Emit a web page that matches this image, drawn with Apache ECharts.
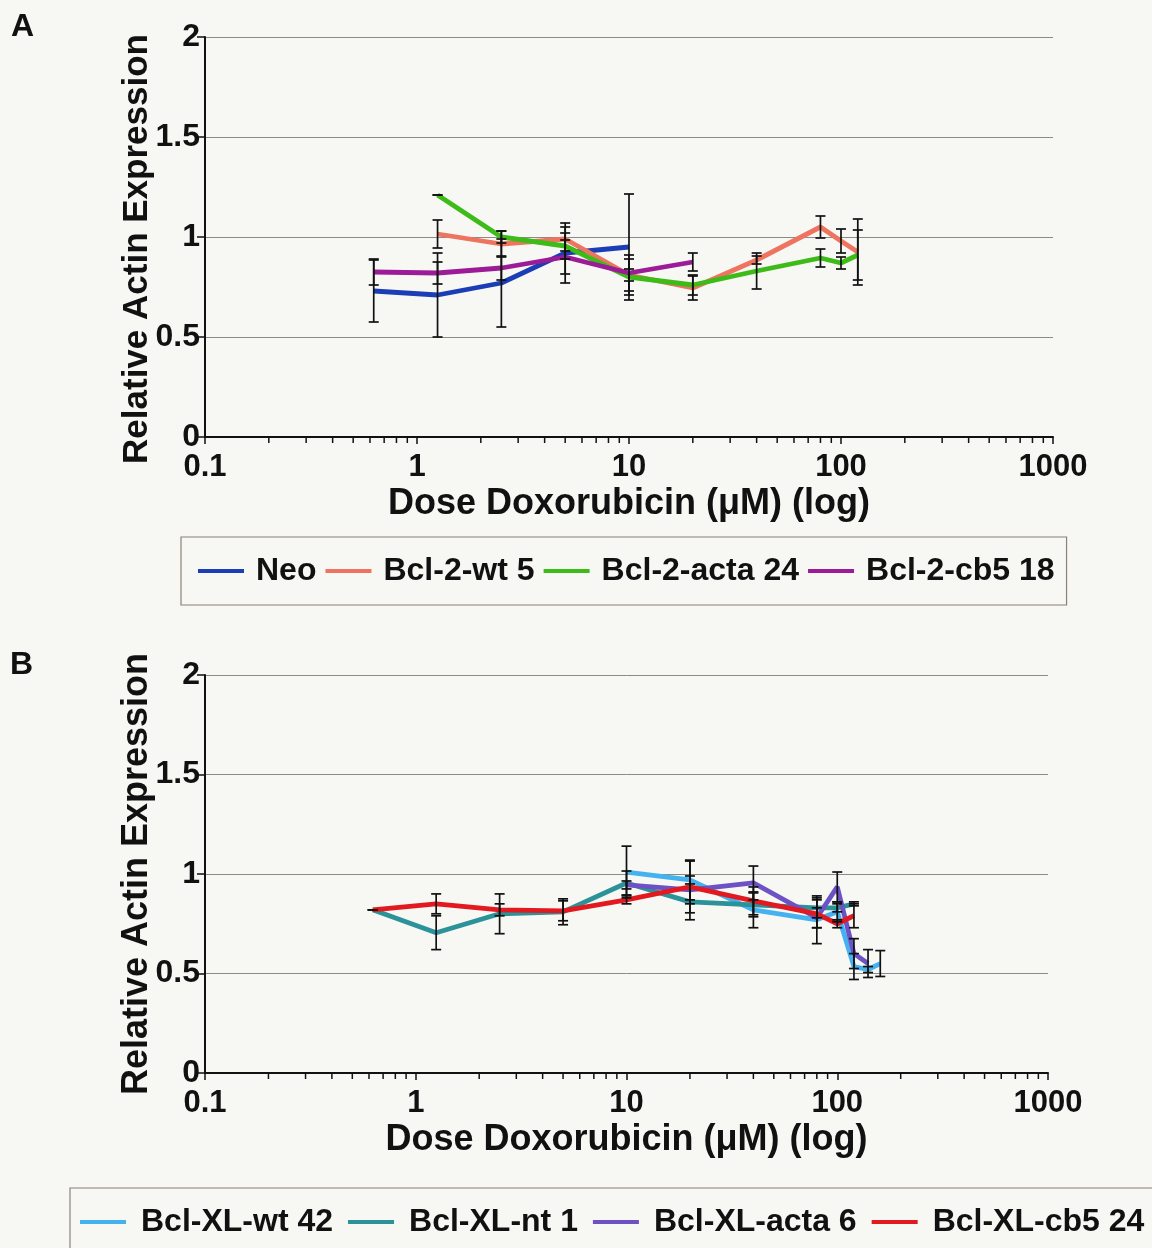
<!DOCTYPE html>
<html>
<head>
<meta charset="utf-8">
<script src="https://cdn.jsdelivr.net/npm/echarts@6/dist/echarts.min.js"></script>
<style>
  html, body { margin: 0; padding: 0; background: #f7f7f4; }
  #chart { width: 1152px; height: 1248px; }
</style>
</head>
<body>
<div id="chart"></div>
<script>
// ---- Panel A: Bcl-2 lines, relative actin expression vs doxorubicin dose ----
const dosesA = [0.625, 1.25, 2.5, 5, 10, 20, 40, 80, 100, 120];
const neoMean    = [0.73, 0.71, 0.77, 0.92, 0.95, null, null, null, null, null];
const neoErr     = [0.155, 0.21, 0.22, 0.15, 0.265, null, null, null, null, null];
const wt5Mean    = [null, 1.015, 0.965, 0.99, 0.81, 0.745, 0.885, 1.05, 0.98, 0.925];
const wt5Err     = [null, 0.07, 0.065, 0.06, 0.03, 0.06, 0.02, 0.055, 0.06, 0.165];
const acta24Mean = [null, 1.21, 1.0, 0.955, 0.80, 0.76, 0.83, 0.895, 0.87, 0.91];
const acta24Err  = [null, 0, 0.03, 0.065, 0.09, 0.05, 0.09, 0.045, 0.03, 0.125];
const cb518Mean  = [0.825, 0.82, 0.845, 0.90, 0.82, 0.875, null, null, null, null];
const cb518Err   = [0.065, 0.055, 0.06, 0.085, 0.09, 0.045, null, null, null, null];

// ---- Panel B: Bcl-XL lines ----
const dosesB = [0.625, 1.25, 2.5, 5, 10, 20, 40, 80, 100, 120, 140, 160];
const xlWt42Mean  = [null, null, null, null, 1.01, 0.97, 0.82, 0.77, 0.81, 0.535, 0.52, 0.55];
const xlWt42Err   = [null, null, null, null, 0.13, 0.10, 0.09, 0.12, 0.05, 0.065, 0.015, 0.065];
const xlNt1Mean   = [0.82, 0.705, 0.80, 0.81, 0.955, 0.86, 0.845, 0.83, 0.83, 0.85, null, null];
const xlNt1Err    = [0, 0.085, 0.10, 0.065, 0.06, 0.09, 0.06, 0.05, 0.02, 0.01, null, null];
const xlActa6Mean = [null, null, null, null, 0.945, 0.92, 0.955, 0.78, 0.935, 0.60, 0.55, null];
const xlActa6Err  = [null, null, null, null, 0.02, 0.07, 0.085, 0.05, 0.075, 0.075, 0.07, null];
const xlCb524Mean = [0.82, 0.85, 0.82, 0.815, 0.87, 0.935, 0.865, 0.80, 0.75, 0.79, null, null];
const xlCb524Err  = [0, 0.05, 0.03, 0.05, 0.02, 0.13, 0.07, 0.07, 0.02, 0.06, null, null];

// ---- Axis ticks ----
const decades = [0.1, 1, 10, 100];
const minorSteps = [2, 3, 4, 5, 6, 7, 8, 9];

const FONT = '"Liberation Sans", Arial, sans-serif';

function points(doses, means) {
  return doses.map((d, i) => means[i] == null ? null : [d, means[i]]).filter(Boolean);
}
function errPoints(doses, means, errs) {
  return doses.map((d, i) => means[i] == null ? null : [d, means[i], errs[i] || 0]).filter(Boolean);
}

function lineSeries(name, color, doses, means, g) {
  return {
    type: 'line', name, xAxisIndex: g, yAxisIndex: g,
    data: points(doses, means),
    symbol: 'none', showSymbol: false,
    lineStyle: { color, width: 4.8 },
    itemStyle: { color },
    z: 3, animation: false
  };
}

function renderErrBar(params, api) {
  const x = api.value(0), y = api.value(1), e = api.value(2);
  const top = api.coord([x, y + e]);
  const bot = api.coord([x, y - e]);
  const hw = 5;
  const st = { stroke: '#111', lineWidth: 1.7 };
  return {
    type: 'group',
    children: [
      { type: 'line', shape: { x1: top[0], y1: top[1], x2: bot[0], y2: bot[1] }, style: st },
      { type: 'line', shape: { x1: top[0] - hw, y1: top[1], x2: top[0] + hw, y2: top[1] }, style: st },
      { type: 'line', shape: { x1: bot[0] - hw, y1: bot[1], x2: bot[0] + hw, y2: bot[1] }, style: st }
    ]
  };
}

function errSeries(doses, means, errs, g) {
  return {
    type: 'custom', xAxisIndex: g, yAxisIndex: g,
    data: errPoints(doses, means, errs),
    renderItem: renderErrBar,
    silent: true, z: 5, animation: false
  };
}

// minor log ticks below the x axis (2..9 within each decade)
const minorTickValues = [];
decades.forEach(d => minorSteps.forEach(m => minorTickValues.push(+(d * m).toPrecision(3))));

function minorTickSeries(g) {
  return {
    type: 'custom', xAxisIndex: g, yAxisIndex: g,
    data: minorTickValues.map(v => [v, 0]),
    renderItem: (params, api) => {
      const p = api.coord([api.value(0), 0]);
      return { type: 'line', shape: { x1: p[0], y1: p[1], x2: p[0], y2: p[1] + 6 },
               style: { stroke: '#111', lineWidth: 1.5 } };
    },
    clip: false, silent: true, z: 6, animation: false
  };
}

function xAxis(g) {
  return {
    type: 'log', logBase: 10, min: 0.1, max: 1000, gridIndex: g,
    name: 'Dose Doxorubicin (\u03bcM) (log)',
    nameLocation: 'middle', nameGap: 49,
    nameTextStyle: { fontSize: 36, fontWeight: 'bold', color: '#111', fontFamily: FONT },
    axisLine: { show: true, lineStyle: { color: '#111', width: 2 } },
    axisTick: { show: true, length: 7, lineStyle: { color: '#111', width: 1.5 } },
    axisLabel: { fontSize: 31, fontWeight: 'bold', color: '#111', margin: 15, fontFamily: FONT,
                 formatter: v => String(+(+v).toPrecision(6)) },
    splitLine: { show: false },
    minorTick: { show: false }
  };
}

function yAxis(g, nameSize, namePad) {
  return {
    type: 'value', min: 0, max: 2, interval: 0.5, gridIndex: g,
    name: 'Relative Actin Expression',
    nameLocation: 'middle', nameGap: 50, nameMoveOverlap: false,
    nameTextStyle: { fontSize: nameSize, fontWeight: 'bold', color: '#111', fontFamily: FONT, padding: namePad },
    axisLine: { show: true, lineStyle: { color: '#111', width: 2 } },
    axisTick: { show: true, length: 8, lineStyle: { color: '#111', width: 1.5 } },
    axisLabel: { fontSize: 32, fontWeight: 'bold', color: '#111', margin: 5, fontFamily: FONT,
                 formatter: v => String(v) },
    splitLine: { show: true, lineStyle: { color: '#8a8a86', width: 1 } }
  };
}

function legendText(size, padLeft) {
  return { fontSize: size, fontWeight: 'bold', color: '#111', fontFamily: FONT, padding: [0, 0, 0, padLeft] };
}

const option = {
  backgroundColor: '#f7f7f4',
  animation: false,
  textStyle: { fontFamily: FONT },
  grid: [
    { left: 205, top: 37, width: 848, height: 400 },
    { left: 205, top: 675, width: 843, height: 398 }
  ],
  xAxis: [xAxis(0), xAxis(1)],
  yAxis: [yAxis(0, 35, [0, 24, 0, 0]), yAxis(1, 36, [0, 0, 0, 0])],
  legend: [
    {
      left: 181, top: 537, orient: 'horizontal',
      data: ['Neo', 'Bcl-2-wt 5', 'Bcl-2-acta 24', 'Bcl-2-cb5 18'],
      icon: 'rect', itemWidth: 46, itemHeight: 4, itemGap: 9,
      padding: [18, 12, 18, 17],
      borderColor: '#8c8272', borderWidth: 1.2,
      textStyle: legendText(32, 7), selectedMode: false
    },
    {
      left: 70, top: 1188, width: 1100, orient: 'horizontal',
      data: ['Bcl-XL-wt 42', 'Bcl-XL-nt 1', 'Bcl-XL-acta 6', 'Bcl-XL-cb5 24'],
      icon: 'rect', itemWidth: 46, itemHeight: 4, itemGap: 15,
      padding: [18, 30, 60, 10],
      borderColor: '#8c8272', borderWidth: 1.2,
      textStyle: legendText(32, 10), selectedMode: false
    }
  ],
  graphic: [
    { type: 'text', left: 11, top: 11, style: { text: 'A', font: 'bold 32px ' + FONT, fill: '#111' } },
    { type: 'text', left: 10, top: 649, style: { text: 'B', font: 'bold 32px ' + FONT, fill: '#111' } }
  ],
  series: [
    lineSeries('Neo', '#1b3db5', dosesA, neoMean, 0),
    lineSeries('Bcl-2-wt 5', '#ee7460', dosesA, wt5Mean, 0),
    lineSeries('Bcl-2-acta 24', '#3dbb18', dosesA, acta24Mean, 0),
    lineSeries('Bcl-2-cb5 18', '#9c1c98', dosesA, cb518Mean, 0),
    errSeries(dosesA, neoMean, neoErr, 0),
    errSeries(dosesA, wt5Mean, wt5Err, 0),
    errSeries(dosesA, acta24Mean, acta24Err, 0),
    errSeries(dosesA, cb518Mean, cb518Err, 0),
    minorTickSeries(0),

    lineSeries('Bcl-XL-wt 42', '#45b2f0', dosesB, xlWt42Mean, 1),
    lineSeries('Bcl-XL-nt 1', '#2a9298', dosesB, xlNt1Mean, 1),
    lineSeries('Bcl-XL-acta 6', '#6c52c4', dosesB, xlActa6Mean, 1),
    lineSeries('Bcl-XL-cb5 24', '#e21a1f', dosesB, xlCb524Mean, 1),
    errSeries(dosesB, xlWt42Mean, xlWt42Err, 1),
    errSeries(dosesB, xlNt1Mean, xlNt1Err, 1),
    errSeries(dosesB, xlActa6Mean, xlActa6Err, 1),
    errSeries(dosesB, xlCb524Mean, xlCb524Err, 1),
    minorTickSeries(1)
  ]
};

const chart = echarts.init(document.getElementById('chart'), null, { renderer: 'canvas' });
chart.setOption(option);
</script>
</body>
</html>
